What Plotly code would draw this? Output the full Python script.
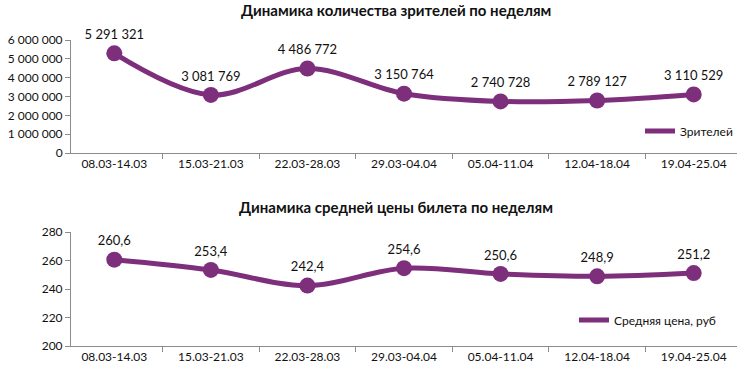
import plotly.graph_objects as go

weeks = ["08.03-14.03", "15.03-21.03", "22.03-28.03", "29.03-04.04",
         "05.04-11.04", "12.04-18.04", "19.04-25.04"]
viewers = [5291321, 3081769, 4486772, 3150764, 2740728, 2789127, 3110529]
avg_price = [260.6, 253.4, 242.4, 254.6, 250.6, 248.9, 251.2]

title_top = "Динамика количества зрителей по неделям"
title_bottom = "Динамика средней цены билета по неделям"
name_top = "Зрителей"
name_bottom = "Средняя цена, руб"

color = "#7E2F7C"
font_family = "Lato, Carlito, Calibri, sans-serif"

fig = go.Figure()

# top chart
fig.add_trace(go.Scatter(x=weeks, y=viewers, mode="lines", name=name_top,
                         line=dict(color=color, width=5, shape="spline", smoothing=1),
                         xaxis="x", yaxis="y", legend="legend", hoverinfo="skip"))
fig.add_trace(go.Scatter(x=weeks, y=viewers, mode="markers+text", showlegend=False,
                         marker=dict(color=color, size=16), cliponaxis=False,
                         texttemplate="%{y:,.0f}", textposition="top center",
                         textfont=dict(size=13, color="#111111", family=font_family),
                         xaxis="x", yaxis="y"))
# bottom chart
fig.add_trace(go.Scatter(x=weeks, y=avg_price, mode="lines", name=name_bottom,
                         line=dict(color=color, width=5, shape="spline", smoothing=1),
                         xaxis="x2", yaxis="y2", legend="legend2", hoverinfo="skip"))
fig.add_trace(go.Scatter(x=weeks, y=avg_price, mode="markers+text", showlegend=False,
                         marker=dict(color=color, size=16), cliponaxis=False,
                         texttemplate="%{y:.1f}", textposition="top center",
                         textfont=dict(size=13, color="#111111", family=font_family),
                         xaxis="x2", yaxis="y2"))

H = 376
W = 743
xdom = [71 / W, 737 / W]
axis_common = dict(showgrid=False, zeroline=False, showline=True, linecolor="#8c8c8c",
                   linewidth=1, ticks="outside", tickcolor="#8c8c8c", ticklen=5,
                   automargin=False,
                   tickfont=dict(size=12, color="#111111", family=font_family))

fig.update_layout(
    width=W, height=H, autosize=False,
    margin=dict(l=0, r=0, t=0, b=0, pad=0),
    paper_bgcolor="white", plot_bgcolor="white",
    separators=", ",
    font=dict(family=font_family, color="#111111"),
    xaxis=dict(domain=xdom, anchor="y", tickson="boundaries", **axis_common),
    yaxis=dict(domain=[1 - 153 / H, 1 - 40 / H], anchor="x", range=[0, 6000000],
               dtick=1000000, tickformat=",.0f", **axis_common),
    xaxis2=dict(domain=xdom, anchor="y2", tickson="boundaries", **axis_common),
    yaxis2=dict(domain=[1 - 346 / H, 1 - 232 / H], anchor="x2", range=[200, 280],
                dtick=20, tickformat=".0f", **axis_common),
    legend=dict(x=640 / W, y=1 - 131 / H, xanchor="left", yanchor="middle",
                bgcolor="rgba(0,0,0,0)", font=dict(size=12, family=font_family),
                itemwidth=30),
    legend2=dict(x=574 / W, y=1 - 320 / H, xanchor="left", yanchor="middle",
                 bgcolor="rgba(0,0,0,0)", font=dict(size=12, family=font_family),
                 itemwidth=30),
    annotations=[
        dict(text="<b>" + title_top + "</b>", x=396 / W, y=1 - 10 / H, xref="paper", yref="paper",
             showarrow=False, font=dict(size=15, family=font_family), xanchor="center", yanchor="middle"),
        dict(text="<b>" + title_bottom + "</b>", x=396 / W, y=1 - 207 / H, xref="paper", yref="paper",
             showarrow=False, font=dict(size=15, family=font_family), xanchor="center", yanchor="middle"),
    ],
)

fig.write_html("out.html", config={"displayModeBar": False},
               post_script="document.body.style.margin='0';")
